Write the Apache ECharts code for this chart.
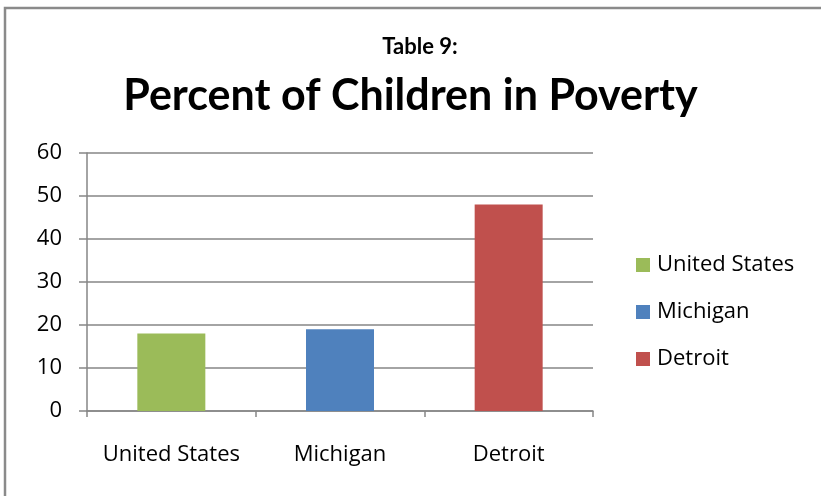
<!DOCTYPE html>
<html>
<head>
<meta charset="utf-8">
<script src="https://cdn.jsdelivr.net/npm/echarts@6/dist/echarts.min.js"></script>
<style>
html,body{margin:0;padding:0;background:#fff;}
#chart{width:821px;height:496px;}
</style>
</head>
<body>
<div id="chart"></div>
<script>
var categories = ['United States', 'Michigan', 'Detroit'];
var seriesNames = ['United States', 'Michigan', 'Detroit'];
var values = [18, 19, 48];
var colors = ['#9BBB59', '#4F81BD', '#C0504D'];
var yTicks = [0, 10, 20, 30, 40, 50, 60];

var chart = echarts.init(document.getElementById('chart'));
var titleFont = 'Lato, "Open Sans", sans-serif';
var font = '"Open Sans", Lato, sans-serif';
var series = seriesNames.map(function (name, i) {
  var d = categories.map(function (c, j) { return j === i ? values[i] : null; });
  return {
    name: name,
    type: 'bar',
    stack: 'all',
    data: d,
    barWidth: 68,
    itemStyle: { color: colors[i] }
  };
});

chart.setOption({
  animation: false,
  backgroundColor: '#fff',
  title: [
    { text: 'Table 9:', left: 415, textAlign: 'center', top: 31,
      textStyle: { fontFamily: titleFont, fontWeight: 'bold', fontSize: 22, color: '#000' } },
    { text: 'Percent of Children in Poverty', left: 'center', top: 70,
      textStyle: { fontFamily: titleFont, fontWeight: 'bold', fontSize: 43, color: '#000' } }
  ],
  graphic: [{
    type: 'rect', shape: { x: 5, y: 8, width: 830, height: 500 },
    style: { fill: 'none', stroke: '#8a8a8a', lineWidth: 2.5 }, silent: true
  }],
  legend: {
    orient: 'vertical', left: 631, top: 249, itemWidth: 14, itemHeight: 14, itemGap: 25,
    icon: 'rect', data: seriesNames,
    textStyle: { fontFamily: font, fontSize: 22, color: '#000', padding: [0, 0, 0, 2] }
  },
  grid: { left: 87, right: 228, top: 153, bottom: 85, containLabel: false },
  xAxis: {
    type: 'category', data: categories,
    axisLine: { lineStyle: { color: '#868686', width: 1.5 } },
    axisTick: { show: true, length: 6, lineStyle: { color: '#868686', width: 1.5 } },
    axisLabel: { fontFamily: font, fontSize: 22, color: '#000', margin: 33, interval: 0, hideOverlap: false }
  },
  yAxis: {
    type: 'value', min: yTicks[0], max: yTicks[yTicks.length - 1], interval: 10,
    axisLine: { show: true, lineStyle: { color: '#868686', width: 1.5 } },
    axisTick: { show: true, length: 8, lineStyle: { color: '#868686', width: 1.5 } },
    splitLine: { lineStyle: { color: '#868686', width: 1.5 } },
    axisLabel: { fontFamily: font, fontSize: 22, color: '#000', margin: 25 }
  },
  series: series
});
</script>
</body>
</html>
